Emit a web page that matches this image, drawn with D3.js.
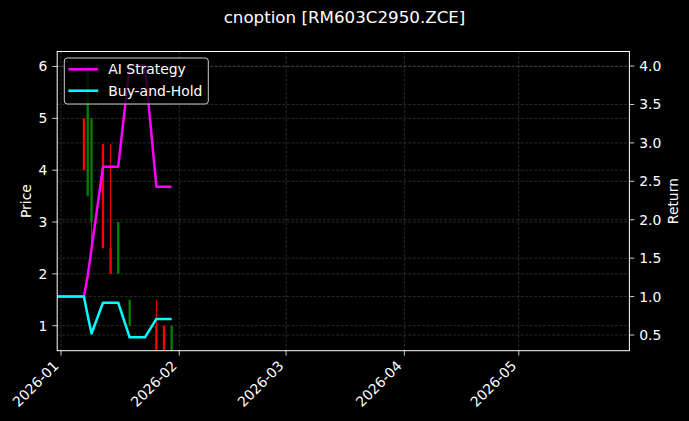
<!DOCTYPE html>
<html>
<head>
<meta charset="utf-8">
<script src="https://cdn.jsdelivr.net/npm/d3@7/dist/d3.min.js"></script>
<style>
  html, body { margin: 0; padding: 0; background: #000; }
  svg { display: block; }
  text { font-family: "DejaVu Sans", sans-serif; fill: #fff; }
</style>
</head>
<body>
<svg id="chart" width="689" height="421"></svg>
<script>
// ---- data ----
const title = "cnoption [RM603C2950.ZCE]";
const dates = ["2025-12-31","2026-01-02","2026-01-05","2026-01-06","2026-01-07","2026-01-08","2026-01-09",
  "2026-01-12","2026-01-13","2026-01-14","2026-01-15","2026-01-16",
  "2026-01-19","2026-01-20","2026-01-21","2026-01-22","2026-01-23",
  "2026-01-26","2026-01-27","2026-01-28","2026-01-29","2026-01-30"];
const aiStrategy = [1.0,1.0,1.0,1.0,1.0,1.27,1.62,2.69,2.69,2.69,2.69,2.69,4.01,4.01,4.01,4.01,4.01,2.43,2.43,2.43,2.43,2.43];
const buyHold    = [1.0,1.0,1.0,1.0,1.0,0.75,0.52,0.92,0.92,0.92,0.92,0.92,0.47,0.47,0.47,0.47,0.47,0.71,0.71,0.71,0.71,0.71];

const candleDates = ["2026-01-07","2026-01-08","2026-01-09","2026-01-12","2026-01-14","2026-01-16","2026-01-19","2026-01-26","2026-01-28","2026-01-30"];
const candleOpen  = [5.0, 3.5, 3.0, 4.5, 2.5, 2.0, 1.0, 1.0, 1.0, 0.3];
const candleHigh  = [5.0, 6.0, 5.0, 4.5, 4.5, 3.0, 1.5, 1.5, 1.0, 1.0];
const candleLow   = [4.0, 3.5, 2.5, 2.5, 2.0, 2.0, 1.0, 0.3, 0.3, 0.3];
const candleClose = [4.0, 6.0, 5.0, 2.5, 2.0, 3.0, 1.5, 0.3, 0.3, 1.0];

const xTicks = ["2026-01-01","2026-02-01","2026-03-01","2026-04-01","2026-05-01"];
const xTickLabels = ["2026-01","2026-02","2026-03","2026-04","2026-05"];
const priceTicks = [1,2,3,4,5,6];
const returnTicks = [0.5,1.0,1.5,2.0,2.5,3.0,3.5,4.0];
const xDomain = ["2025-12-31","2026-05-30"];
const priceDomain = [0.518, 6.289];
const returnDomain = [0.296, 4.189];
const seriesNames = ["AI Strategy","Buy-and-Hold"];

// ---- layout ----
const W = 689, H = 421;
const L = 57.2, R = 629.4, T = 51.5, B = 350.7;
const parse = s => { const [y,m,d] = s.split("-").map(Number); return new Date(Date.UTC(y, m-1, d)); };

const x = d3.scaleUtc().domain(xDomain.map(parse)).range([L, R]);
const yP = d3.scaleLinear().domain(priceDomain).range([B, T]);
const yR = d3.scaleLinear().domain(returnDomain).range([B, T]);

const svg = d3.select("#chart");
svg.append("rect").attr("width", W).attr("height", H).attr("fill", "#000");

svg.append("defs").append("clipPath").attr("id", "plotclip")
  .append("rect").attr("x", L).attr("y", T).attr("width", R - L).attr("height", B - T);

// grid
const grid = svg.append("g").attr("stroke", "#888").attr("stroke-opacity", 0.38)
  .attr("stroke-width", 0.8).attr("stroke-dasharray", "3,1.5");
xTicks.forEach(t => grid.append("line").attr("x1", x(parse(t))).attr("x2", x(parse(t))).attr("y1", T).attr("y2", B));
priceTicks.forEach(t => grid.append("line").attr("x1", L).attr("x2", R).attr("y1", yP(t)).attr("y2", yP(t)));
returnTicks.forEach(t => grid.append("line").attr("x1", L).attr("x2", R).attr("y1", yR(t)).attr("y2", yR(t)));

// candles
const plot = svg.append("g").attr("clip-path", "url(#plotclip)");
const candles = candleDates.map((d, i) => ({
  date: parse(d), o: candleOpen[i], h: candleHigh[i], l: candleLow[i], c: candleClose[i]
}));
const dayMs = 86400000;
const bodyW = x(new Date(parse(xDomain[0]).getTime() + 0.6 * dayMs)) - x(parse(xDomain[0]));
candles.forEach(c => {
  const col = c.c >= c.o ? "#008000" : "#ff0000";
  const cx = x(c.date);
  plot.append("line").attr("x1", cx).attr("x2", cx).attr("y1", yP(c.h)).attr("y2", yP(c.l))
    .attr("stroke", col).attr("stroke-width", 1);
  const top = yP(Math.max(c.o, c.c)), bot = yP(Math.min(c.o, c.c));
  plot.append("rect").attr("x", cx - bodyW / 2).attr("y", top).attr("width", bodyW)
    .attr("height", Math.max(bot - top, 0.8)).attr("fill", col);
});

// return lines
const pts = dates.map((d, i) => ({ date: parse(d), ai: aiStrategy[i], bh: buyHold[i] }));
const lineAI = d3.line().x(d => x(d.date)).y(d => yR(d.ai));
const lineBH = d3.line().x(d => x(d.date)).y(d => yR(d.bh));
plot.append("path").datum(pts).attr("d", lineAI).attr("fill", "none")
  .attr("stroke", "#ff00ff").attr("stroke-width", 2.5).attr("stroke-linejoin", "round");
plot.append("path").datum(pts).attr("d", lineBH).attr("fill", "none")
  .attr("stroke", "#00ffff").attr("stroke-width", 2.5).attr("stroke-linejoin", "round");

// spines
svg.append("rect").attr("x", L).attr("y", T).attr("width", R - L).attr("height", B - T)
  .attr("fill", "none").attr("stroke", "#fff").attr("stroke-width", 1);

// axes
const fs = 13.9;
const tickLen = 4.9;
const axG = svg.append("g");
priceTicks.forEach(t => {
  const yy = yP(t);
  axG.append("line").attr("x1", L - tickLen).attr("x2", L).attr("y1", yy).attr("y2", yy)
    .attr("stroke", "#fff").attr("stroke-width", 0.8);
  axG.append("text").attr("x", L - tickLen - 4.9).attr("y", yy).attr("dy", "0.36em")
    .attr("text-anchor", "end").attr("font-size", fs).text(d3.format("d")(t));
});
returnTicks.forEach(t => {
  const yy = yR(t);
  axG.append("line").attr("x1", R).attr("x2", R + tickLen).attr("y1", yy).attr("y2", yy)
    .attr("stroke", "#fff").attr("stroke-width", 0.8);
  axG.append("text").attr("x", R + tickLen + 4.9).attr("y", yy).attr("dy", "0.36em")
    .attr("text-anchor", "start").attr("font-size", fs).text(d3.format(".1f")(t));
});
xTicks.forEach((t, i) => {
  const xx = x(parse(t));
  axG.append("line").attr("x1", xx).attr("x2", xx).attr("y1", B).attr("y2", B + tickLen)
    .attr("stroke", "#fff").attr("stroke-width", 0.8);
  axG.append("text").attr("transform", `translate(${xx - 1.5},${B + 16}) rotate(-45)`)
    .attr("text-anchor", "end").attr("font-size", fs).text(xTickLabels[i]);
});

// axis labels
svg.append("text").attr("transform", `translate(31,${(T + B) / 2}) rotate(-90)`)
  .attr("text-anchor", "middle").attr("font-size", fs).text("Price");
svg.append("text").attr("transform", `translate(678,${(T + B) / 2}) rotate(-90)`)
  .attr("text-anchor", "middle").attr("font-size", fs).text("Return");

// title
svg.append("text").attr("x", W / 2).attr("y", 23.3).attr("text-anchor", "middle")
  .attr("font-size", 16.7).text(title);

// legend
const lg = svg.append("g");
lg.append("rect").attr("x", 64.3).attr("y", 58).attr("width", 144).attr("height", 46).attr("rx", 3)
  .attr("fill", "#000").attr("fill-opacity", 0.8).attr("stroke", "#ccc").attr("stroke-width", 1);
const legColors = ["#ff00ff", "#00ffff"];
seriesNames.forEach((n, i) => {
  const yy = 69.3 + i * 21.4;
  lg.append("line").attr("x1", 68.3).attr("x2", 98.3).attr("y1", yy).attr("y2", yy)
    .attr("stroke", legColors[i]).attr("stroke-width", 2.5);
  lg.append("text").attr("x", 108.3).attr("y", yy).attr("dy", "0.36em").attr("font-size", fs).text(n);
});
</script>
</body>
</html>
